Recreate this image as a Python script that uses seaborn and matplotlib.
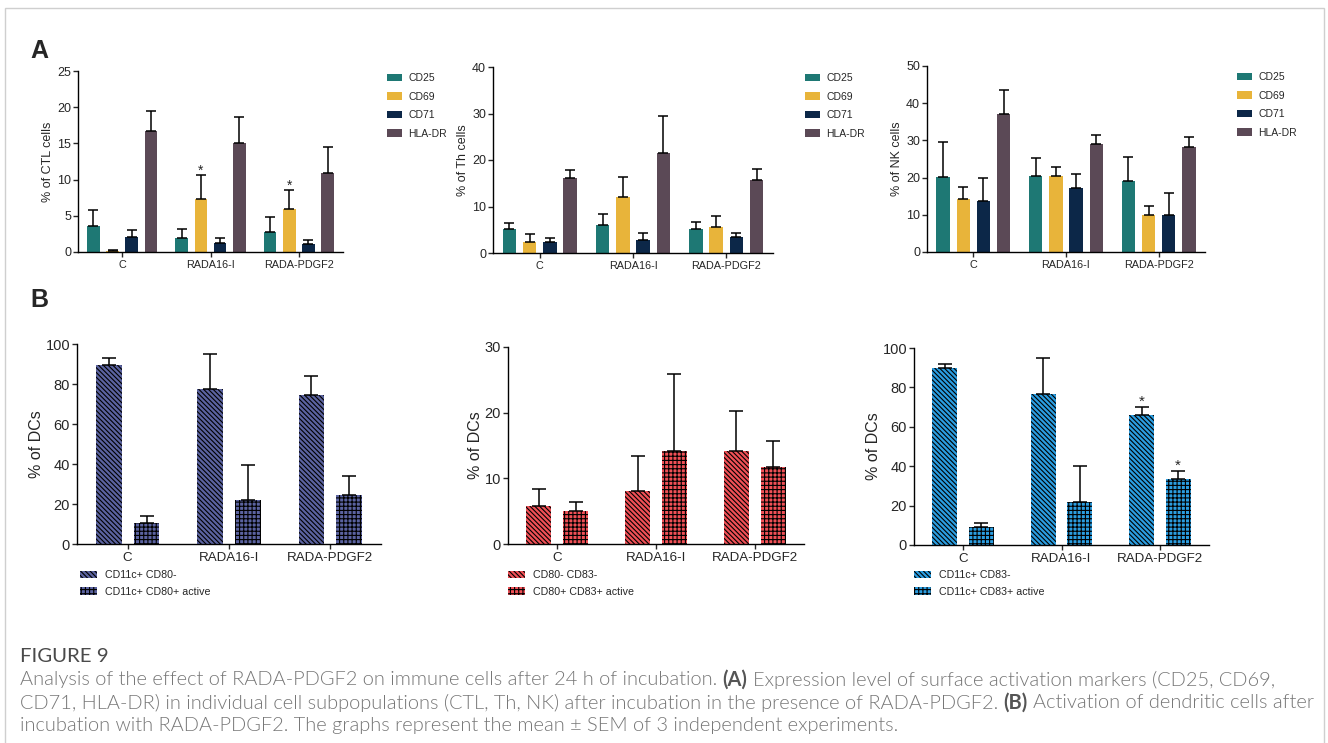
import numpy as np
import pandas as pd
import matplotlib
matplotlib.use("Agg")
import matplotlib.pyplot as plt
import seaborn as sns
from matplotlib.patches import Rectangle

# ---------------- data ----------------
groups = ["C", "RADA16-I", "RADA-PDGF2"]
markers = ["CD25", "CD69", "CD71", "HLA-DR"]

# % of CTL cells (rows: CD25, CD69, CD71, HLA-DR; cols: groups)
ctl_mean = [[3.6, 1.9, 2.8], [0.2, 7.3, 6.0], [2.1, 1.3, 1.1], [16.7, 15.1, 10.9]]
ctl_sem = [[2.2, 1.3, 2.1], [0.1, 3.4, 2.6], [1.0, 0.7, 0.5], [2.8, 3.6, 3.6]]
ctl_sig = [[0, 0, 0], [0, 1, 1], [0, 0, 0], [0, 0, 0]]

th_mean = [[5.2, 6.0, 5.2], [2.3, 12.1, 5.5], [2.3, 2.7, 3.4], [16.1, 21.4, 15.8]]
th_sem = [[1.3, 2.4, 1.5], [1.8, 4.3, 2.4], [0.9, 1.7, 1.0], [1.7, 8.0, 2.3]]

nk_mean = [[20.1, 20.3, 19.0], [14.2, 20.3, 10.0], [13.6, 17.1, 9.9], [37.1, 29.1, 28.1]]
nk_sem = [[9.4, 5.0, 6.6], [3.4, 2.6, 2.4], [6.3, 3.8, 5.9], [6.4, 2.3, 2.9]]

dc80_labels = ["CD11c+ CD80-", "CD11c+ CD80+ active"]
dc80_mean = [[89.4, 77.7, 74.7], [10.3, 22.1, 24.5]]
dc80_sem = [[3.8, 17.1, 9.5], [3.8, 17.3, 9.4]]

dc8083_labels = ["CD80- CD83-", "CD80+ CD83+ active"]
dc8083_mean = [[5.8, 8.0, 14.2], [5.0, 14.1, 11.8]]
dc8083_sem = [[2.5, 5.4, 6.0], [1.4, 11.8, 3.9]]

dc83_labels = ["CD11c+ CD83-", "CD11c+ CD83+ active"]
dc83_mean = [[90.0, 76.6, 65.8], [9.2, 22.0, 33.4]]
dc83_sem = [[1.9, 18.5, 4.2], [1.8, 18.0, 4.1]]
dc83_sig = [[0, 0, 1], [0, 0, 1]]

marker_colors = ["#1e7874", "#e8b43a", "#0c2748", "#5b4956"]

# ---------------- style ----------------
sns.set_theme(style="ticks")
plt.rcParams["font.family"] = ["Liberation Sans", "DejaVu Sans"]
plt.rcParams["hatch.linewidth"] = 0.8
plt.rcParams["axes.linewidth"] = 1.0

W, H = 1328, 743
fig = plt.figure(figsize=(W / 100, H / 100), dpi=100)


def px_axes(x0, x1, ytop, ybot):
    return fig.add_axes([x0 / W, 1 - ybot / H, (x1 - x0) / W, (ybot - ytop) / H])


def long_df(means, levels):
    rows = []
    for lev, vals in zip(levels, means):
        for g, v in zip(groups, vals):
            rows.append({"group": g, "level": lev, "value": v})
    return pd.DataFrame(rows)


def draw_panel(ax, means, sems, levels, palette, width, gap, ylim, yticks,
               ylabel, capsize, tick_fs, xfs, yfs, sig=None, hatches=None,
               star_fs=10, star_off=-2.5, labelpad=2):
    df = long_df(means, levels)
    sns.barplot(data=df, x="group", y="value", hue="level", order=groups,
                hue_order=levels, palette=palette, width=width, gap=gap,
                errorbar=None, legend=False, saturation=1, ax=ax,
                edgecolor="black", linewidth=0)
    conts = list(ax.containers)
    for i, (cont, s) in enumerate(zip(conts, sems)):
        patches = sorted(cont.patches, key=lambda p: p.get_x())
        if hatches is not None:
            for p in patches:
                p.set_hatch(hatches[i])
        xs = [p.get_x() + p.get_width() / 2 for p in patches]
        ys = [p.get_height() for p in patches]
        ax.errorbar(xs, ys, yerr=[np.zeros(len(s)), s], fmt="none",
                    ecolor="black", elinewidth=1.1, capsize=capsize,
                    capthick=1.1)
        if sig is not None:
            for x, y, e, flag in zip(xs, ys, s, sig[i]):
                if flag:
                    ax.annotate("*", xy=(x, y + e), xytext=(0, star_off),
                                textcoords="offset points", ha="center",
                                va="bottom", fontsize=star_fs)
    ax.set_xlim(-0.5, 2.5)
    ax.set_ylim(*ylim)
    ax.set_yticks(yticks)
    ax.set_xlabel("")
    ax.set_ylabel(ylabel, fontsize=yfs, labelpad=labelpad)
    ax.tick_params(axis="y", labelsize=tick_fs, length=3.5, width=1.0, pad=1.5)
    ax.tick_params(axis="x", labelsize=xfs, length=3.5, width=1.0, pad=2)
    sns.despine(ax=ax)
    for sp in ("left", "bottom"):
        ax.spines[sp].set_color("black")
    return conts


def add_legend(ax, conts, labels, x, y, fs, hl, hh, tp, ls):
    ax.legend(conts, labels, loc="upper left", bbox_to_anchor=(x / W, 1 - y / H),
              bbox_transform=fig.transFigure, frameon=False, fontsize=fs,
              handlelength=hl, handleheight=hh, handletextpad=tp,
              labelspacing=ls, borderaxespad=0, borderpad=0)


# ---------------- panel A ----------------
A_tick, A_x, A_y = 9, 7.8, 9
axA1 = px_axes(78, 343, 71, 252)
c = draw_panel(axA1, ctl_mean, ctl_sem, markers, marker_colors, 0.87, 0.34,
               (0, 25), [0, 5, 10, 15, 20, 25], "% of CTL cells", 3.5,
               A_tick, A_x, A_y, sig=ctl_sig, star_fs=10, labelpad=2)
add_legend(axA1, c, markers, 387, 73, 7.5, 1.45, 0.75, 0.6, 0.82)

axA2 = px_axes(493, 773, 67, 253)
c = draw_panel(axA2, th_mean, th_sem, markers, marker_colors, 0.87, 0.34,
               (0, 40), [0, 10, 20, 30, 40], "% of Th cells", 3.5,
               A_tick, A_x, A_y, labelpad=2)
add_legend(axA2, c, markers, 805, 73, 7.5, 1.45, 0.75, 0.6, 0.82)

axA3 = px_axes(927, 1205, 66, 252)
c = draw_panel(axA3, nk_mean, nk_sem, markers, marker_colors, 0.87, 0.34,
               (0, 50), [0, 10, 20, 30, 40, 50], "% of NK cells", 3.5,
               A_tick, A_x, A_y, labelpad=2)
add_legend(axA3, c, markers, 1237, 72, 7.5, 1.45, 0.75, 0.6, 0.82)

# ---------------- panel B ----------------
hatch_pair = ["\\" * 7, "++++"]
B_tick, B_x, B_y = 10.5, 9.6, 11.5
axB1 = px_axes(77, 381, 344, 544)
c = draw_panel(axB1, dc80_mean, dc80_sem, dc80_labels, ["#5b63a0", "#5b63a0"],
               0.745, 0.32, (0, 100), [0, 20, 40, 60, 80, 100], "% of DCs", 5,
               B_tick, B_x, B_y, hatches=hatch_pair, labelpad=1)
add_legend(axB1, c, dc80_labels, 80, 570, 7.7, 1.6, 0.7, 0.7, 0.62)

axB2 = px_axes(508, 804, 347, 544)
c = draw_panel(axB2, dc8083_mean, dc8083_sem, dc8083_labels, ["#f05056", "#f05056"],
               0.745, 0.32, (0, 30), [0, 10, 20, 30], "% of DCs", 5,
               B_tick, B_x, B_y, hatches=hatch_pair, labelpad=1)
add_legend(axB2, c, dc8083_labels, 508, 570, 7.7, 1.6, 0.7, 0.7, 0.62)

axB3 = px_axes(914, 1209, 348, 545)
c = draw_panel(axB3, dc83_mean, dc83_sem, dc83_labels, ["#2b9de0", "#2b9de0"],
               0.745, 0.32, (0, 100), [0, 20, 40, 60, 80, 100], "% of DCs", 5,
               B_tick, B_x, B_y, sig=dc83_sig, hatches=hatch_pair, star_fs=11,
               star_off=-1.0, labelpad=1)
add_legend(axB3, c, dc83_labels, 914, 570, 7.7, 1.6, 0.7, 0.7, 0.62)

# panel letters
fig.text(30 / W, 1 - 51 / H, "A", fontsize=18, fontweight="bold", va="center", ha="left")
fig.text(30 / W, 1 - 300 / H, "B", fontsize=18, fontweight="bold", va="center", ha="left")

# frame
fig.patches.append(Rectangle((4.5 / W, -0.02), (1324 - 4.5) / W, 1.02 - 7.5 / H,
                             transform=fig.transFigure, fill=False,
                             edgecolor="#cfcfcf", linewidth=1.0))

# ---------------- caption ----------------
cap_font = ["Lato", "DejaVu Sans"]
cap_color = "#767676"
cap_weight = 300
line1 = [("Analysis of the effect of RADA-PDGF2 on immune cells after 24 h of incubation.", cap_weight),
         ("(A)", "bold"),
         ("Expression level of surface activation markers (CD25, CD69,", cap_weight)]
line2 = [("CD71, HLA-DR) in individual cell subpopulations (CTL, Th, NK) after incubation in the presence of RADA-PDGF2.", cap_weight),
         ("(B)", "bold"),
         ("Activation of dendritic cells after", cap_weight)]
line3 = [("incubation with RADA-PDGF2. The graphs represent the mean \u00b1 SEM of 3 independent experiments.", cap_weight)]

renderer = fig.canvas.get_renderer()


def width_of(s, fs, weight=cap_weight):
    t = fig.text(0, 0, s, fontsize=fs, family=cap_font, fontweight=weight)
    w = t.get_window_extent(renderer).width
    t.remove()
    return w


def line_width(segs, fs):
    sp = width_of("a a", fs) - width_of("aa", fs)
    return sum(width_of(s, fs, w) for s, w in segs) + sp * (len(segs) - 1)


base_fs = 11.0
lw = line_width(line2, base_fs)
cap_fs = base_fs * 1290.0 / lw


def draw_line(segs, x0, yc, fs):
    sp = width_of("a a", fs) - width_of("aa", fs)
    x = x0
    for s, w in segs:
        t = fig.text(x / W, 1 - yc / H, s, fontsize=fs, family=cap_font,
                     fontweight=w, color=cap_color if w != "bold" else "#555555",
                     va="center", ha="left")
        x = t.get_window_extent(renderer).x1 + sp


fig.text(20 / W, 1 - 656 / H, "FIGURE 9", fontsize=cap_fs * 1.02, family=cap_font,
         fontweight="normal", color="#4a4a4a", va="center", ha="left")
draw_line(line1, 20, 680, cap_fs)
draw_line(line2, 20, 703, cap_fs)
draw_line(line3, 20, 726, cap_fs)

fig.savefig("out.png", dpi=100)
